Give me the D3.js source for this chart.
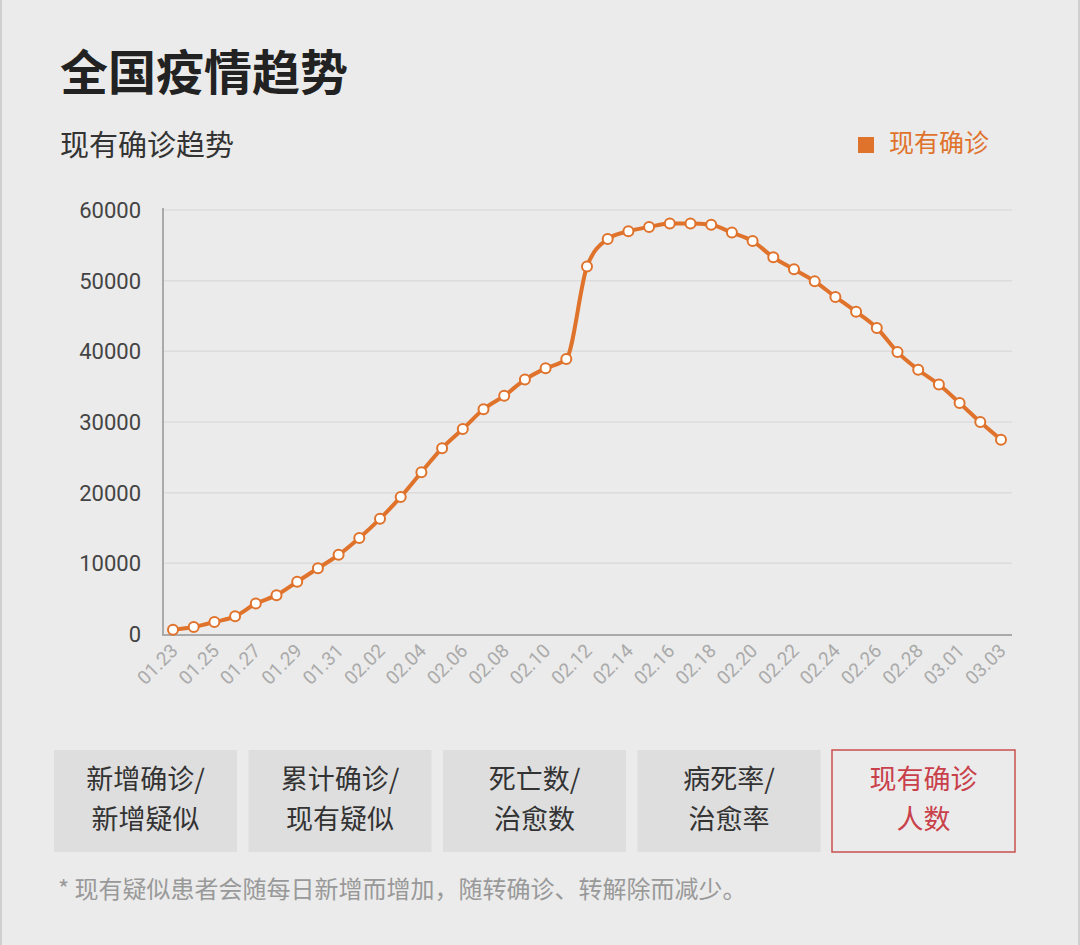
<!DOCTYPE html><html><head><meta charset="utf-8">
<script src="https://cdn.jsdelivr.net/npm/d3@7"></script>
<style>body{margin:0;background:#ebebeb;font-family:"Noto Sans CJK SC","Noto Sans",sans-serif}</style></head><body>
<svg id="c" width="1080" height="945"></svg>
<script>
const dates=["01.23","01.24","01.25","01.26","01.27","01.28","01.29","01.30","01.31","02.01","02.02","02.03","02.04","02.05","02.06","02.07","02.08","02.09","02.10","02.11","02.12","02.13","02.14","02.15","02.16","02.17","02.18","02.19","02.20","02.21","02.22","02.23","02.24","02.25","02.26","02.27","02.28","02.29","03.01","03.02","03.03"];
const current=[600,1000,1700,2500,4300,5500,7400,9300,11200,13600,16300,19400,22900,26300,29000,31800,33700,36000,37600,38900,52000,55900,57000,57600,58100,58100,57900,56800,55600,53300,51600,49900,47700,45600,43300,39900,37400,35300,32700,30000,27500];
const yTicks=[0,10000,20000,30000,40000,50000,60000];
const buttons=[["新增确诊/","新增疑似"],["累计确诊/","现有疑似"],["死亡数/","治愈数"],["病死率/","治愈率"],["现有确诊","人数"]];
const svg=d3.select("#c");
const orange="#e0732c";
svg.append("rect").attr("x",0).attr("y",0).attr("width",1080).attr("height",945).attr("fill","#ebebeb");
svg.append("line").attr("x1",1).attr("x2",1).attr("y1",0).attr("y2",945).attr("stroke","#cfcfcf").attr("stroke-width",2);
svg.append("line").attr("x1",1079).attr("x2",1079).attr("y1",0).attr("y2",945).attr("stroke","#cfcfcf").attr("stroke-width",2);
svg.append("text").attr("x",60).attr("y",90).attr("font-size",48).attr("font-weight",700).attr("fill","#222").text("全国疫情趋势");
svg.append("text").attr("x",60).attr("y",156).attr("font-size",29).attr("fill","#333").text("现有确诊趋势");
svg.append("rect").attr("x",858).attr("y",137).attr("width",16).attr("height",16).attr("fill",orange);
svg.append("text").attr("x",889).attr("y",152).attr("font-size",25).attr("fill",orange).text("现有确诊");
const x=d3.scalePoint().domain(dates).range([173,1001]);
const y=d3.scaleLinear().domain([0,60000]).range([634,210]);
const g=svg.append("g");
yTicks.forEach(t=>{
  if(t>0)g.append("line").attr("x1",163).attr("x2",1012).attr("y1",y(t)).attr("y2",y(t)).attr("stroke","#dcdcdc").attr("stroke-width",1.5);
  g.append("text").attr("x",141).attr("y",y(t)+8).attr("text-anchor","end").attr("font-size",22).attr("fill","#444").attr("font-family","Roboto,sans-serif").text(t);
});
g.append("line").attr("x1",163).attr("x2",163).attr("y1",208).attr("y2",636).attr("stroke","#aaa").attr("stroke-width",2);
g.append("line").attr("x1",163).attr("x2",1012).attr("y1",635).attr("y2",635).attr("stroke","#aaa").attr("stroke-width",2);
dates.forEach((d,i)=>{ if(i%2===0){
  g.append("text").attr("transform",`translate(${x(d)+6},${652}) rotate(-45)`).attr("text-anchor","end").attr("font-size",19).attr("fill","#aaa").attr("font-family","Roboto,sans-serif").text(d);
}});
const line=d3.line().x((d,i)=>x(dates[i])).y(d=>y(d)).curve(d3.curveMonotoneX);
g.append("path").datum(current).attr("d",line).attr("fill","none").attr("stroke",orange).attr("stroke-width",4);
g.selectAll("circle").data(current).join("circle").attr("cx",(d,i)=>x(dates[i])).attr("cy",d=>y(d)).attr("r",5).attr("fill","#fff").attr("stroke",orange).attr("stroke-width",2);
buttons.forEach((b,i)=>{
  const bx=54+i*194.5, last=i===4;
  svg.append("rect").attr("x",bx).attr("y",750).attr("width",183).attr("height",102).attr("fill",last?"#ebebeb":"#dedede").attr("stroke",last?"#c9504e":"none").attr("stroke-width",1.5);
  b.forEach((t,j)=>svg.append("text").attr("x",bx+91.5).attr("y",789+j*40).attr("text-anchor","middle").attr("font-size",27).attr("fill",last?"#c9404a":"#333").text(t));
});
svg.append("text").attr("x",58).attr("y",898).attr("font-size",24).attr("fill","#999").text("* 现有疑似患者会随每日新增而增加，随转确诊、转解除而减少。");
</script></body></html>
